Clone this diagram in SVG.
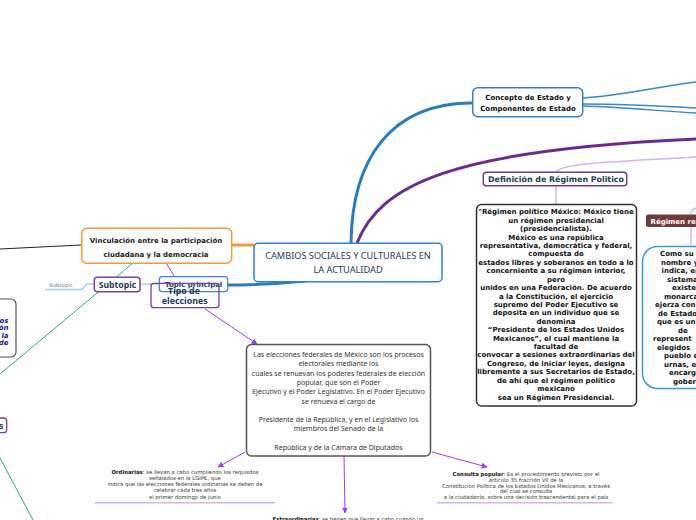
<svg xmlns="http://www.w3.org/2000/svg" width="696" height="520" viewBox="0 0 696 520">
<defs>
<marker id="arr" viewBox="0 0 10 10" refX="9" refY="5" markerUnits="userSpaceOnUse" markerWidth="6" markerHeight="6" orient="auto"><path d="M0,0 L10,5 L0,10 z" fill="#9b3cf0"/></marker>
</defs>
<style>
.bd{font-family:"DejaVu Sans",Verdana,sans-serif;font-weight:bold}
.ns{font-family:"Noto Sans","Open Sans",sans-serif}
.nb{font-family:"Noto Sans","Open Sans",sans-serif;font-weight:bold}
.dv{font-family:"DejaVu Sans",Verdana,sans-serif}
.c{text-anchor:middle}
.arrow{stroke:#9b3cf0;stroke-width:1;fill:none;marker-end:url(#arr)}
.lp{stroke:#d2b4ef;stroke-width:1.5;fill:none}
.lb{stroke:#a9cde6;stroke-width:1.5;fill:none}
.tb{stroke:#2b7bb9;stroke-width:3;fill:none}
</style>
<rect width="696" height="520" fill="#ffffff"/>

<g id="connectors" fill="none">
  <path class="tb" d="M351,243 C352,160 390,103 472,103"/>
  <path d="M357,243 C380,185 450,150 696,139" stroke="#6a2d8f" stroke-width="3"/>
  <path d="M254,245 L231,245" stroke="#f39a3b" stroke-width="3"/>
  <path class="tb" d="M227,285 C260,285 285,283 305,281"/>
  <path d="M81,245 L0,249" stroke="#222" stroke-width="1"/>
  <path d="M133,263 L0,374" stroke="#27b35f" stroke-width="1"/>
  <path d="M0,458 L33,520" stroke="#27b35f" stroke-width="1"/>
  <path d="M583,98 C620,96 650,88 696,82" stroke="#3b87c4" stroke-width="1.5"/>
  <path d="M583,104 C620,104 660,106 696,108" stroke="#3b87c4" stroke-width="1.5"/>
  <path d="M583,106 C620,107 660,111 696,113" stroke="#3b87c4" stroke-width="1.5"/>
  <path class="lp" d="M556,172 C560,164 600,162 696,157"/>
  <path class="lp" d="M556,186 L556,205"/>
  <path class="lp" d="M690,216 C690,212 693,209 696,208"/>
  <path class="lp" d="M691,227 L691,246"/>
  <path class="lb" d="M45,289.5 L81,289.5 C84,289.5 84,284 88,284 L94,284"/>
  <path class="lb" d="M140,284 L159,284"/>
  <path class="arrow" d="M166,263 L178,282"/>
  <path class="arrow" d="M205,309 L257,344"/>
  <path class="arrow" d="M245,452 L218,467"/>
  <path class="arrow" d="M432,452 L487,467"/>
  <path class="arrow" d="M344,456 L345,513"/>
  <path class="lp" d="M95,502.7 L275,502.7"/>
  <path class="lp" d="M437,502.7 L613,502.7"/>
</g>

<g id="central">
  <rect x="254" y="243.3" width="188" height="38.4" rx="4" fill="#fff" stroke="#3182c4" stroke-width="1.5"/>
  <text class="ns c" x="348" y="259" font-size="9.2" fill="#1e3a5f">CAMBIOS SOCIALES Y CULTURALES EN</text>
  <text class="ns c" x="348" y="272.5" font-size="9.2" fill="#1e3a5f">LA ACTUALIDAD</text>
</g>

<g id="vinculacion">
  <rect x="81.7" y="228.3" width="150" height="35" rx="5" fill="#fff" stroke="#f59a3c" stroke-width="1.5"/>
  <text class="bd c" x="156" y="243.3" font-size="7" fill="#222">Vinculación entre la participación</text>
  <text class="bd c" x="156" y="256.7" font-size="7" fill="#222">ciudadana y la democracia</text>
</g>

<g id="concepto">
  <rect x="472.7" y="87.7" width="110" height="29" rx="5" fill="#fff" stroke="#3182c4" stroke-width="1.5"/>
  <text class="bd c" x="528" y="100.2" font-size="7" fill="#111">Concepto de Estado y</text>
  <text class="bd c" x="528" y="110.8" font-size="7" fill="#111">Componentes de Estado</text>
</g>

<g id="definicion">
  <rect x="483.3" y="172.3" width="143.4" height="13.4" rx="3" fill="#fff" stroke="#6a3d8f" stroke-width="1.5"/>
  <text class="bd c" x="556" y="182.3" font-size="7.9" fill="#1d3c5a">Definición de Régimen Politico</text>
</g>

<g id="regimen-mexico">
  <rect x="476.5" y="204.5" width="160" height="201.5" rx="5" fill="#fff" stroke="#333" stroke-width="1.5"/>
  <g class="bd c" font-size="7" fill="#111">
    <text x="556" y="214.3">"Régimen político México: México tiene</text>
    <text x="556" y="222.7">un régimen presidencial</text>
    <text x="556" y="231.1">(presidencialista).</text>
    <text x="556" y="239.6">México es una república</text>
    <text x="556" y="248">representativa, democrática y federal,</text>
    <text x="556" y="256.4">compuesta de</text>
    <text x="556" y="264.8">estados libres y soberanos en todo a lo</text>
    <text x="556" y="273.2">concerniente a su régimen interior,</text>
    <text x="556" y="281.7">pero</text>
    <text x="556" y="290.1">unidos en una Federación. De acuerdo</text>
    <text x="556" y="298.5">a la Constitución, el ejercicio</text>
    <text x="556" y="306.9">supremo del Poder Ejecutivo se</text>
    <text x="556" y="315.3">deposita en un individuo que se</text>
    <text x="556" y="323.8">denomina</text>
    <text x="556" y="332.2">“Presidente de los Estados Unidos</text>
    <text x="556" y="340.6">Mexicanos”, el cual mantiene la</text>
    <text x="556" y="349">facultad de</text>
    <text x="556" y="357.4">convocar a sesiones extraordinarias del</text>
    <text x="556" y="365.9">Congreso, de iniciar leyes, designa</text>
    <text x="556" y="374.3">libremente a sus Secretarios de Estado,</text>
    <text x="556" y="382.7">de ahí que el régimen político</text>
    <text x="556" y="391.1">mexicano</text>
    <text x="556" y="399.6">sea un Régimen Presidencial.</text>
  </g>
</g>

<g id="regimen-rep">
  <rect x="646" y="214.5" width="60" height="12.5" rx="2" fill="#6e3b3b"/>
  <text class="bd" x="650.5" y="223.8" font-size="7" fill="#fff">Régimen rep</text>
</g>

<g id="regimen-rep-texto">
  <rect x="642.5" y="246.5" width="90" height="142" rx="15" fill="#fff" stroke="#3a9ad9" stroke-width="1.5"/>
  <g class="bd" font-size="7" fill="#111">
    <text x="660" y="256">Como su</text>
    <text x="661" y="264.5">nombre y</text>
    <text x="661.5" y="273">indica, en</text>
    <text x="667" y="281.5">sistema</text>
    <text x="672" y="290">existe</text>
    <text x="664" y="298.5">monarca</text>
    <text x="655" y="307">ejerza con</text>
    <text x="658" y="315.5">de Estado</text>
    <text x="657" y="324">que es un</text>
    <text x="678" y="332.5">de</text>
    <text x="653" y="341">represent</text>
    <text x="657" y="349.5">elegidos</text>
    <text x="664" y="358">pueblo e</text>
    <text x="664" y="366.5">urnas, el</text>
    <text x="669" y="375">encarga</text>
    <text x="673" y="383.5">gober</text>
  </g>
</g>

<g id="topic-principal">
  <rect x="159.3" y="276.7" width="68.4" height="15" rx="3" fill="#fff" stroke="#3a8ac6" stroke-width="1.2"/>
  <text class="bd c" x="193.7" y="287.3" font-size="7" fill="#1d3c5a">Topic principal</text>
</g>

<g id="tipo-elecciones">
  <rect x="151" y="283.3" width="68" height="24.4" rx="3" fill="none" stroke="#7b3fa6" stroke-width="1.3"/>
  <text class="nb c" x="184" y="294" font-size="8.8" fill="#1d3c5a">Tipo de</text>
  <text class="nb c" x="184.7" y="304" font-size="8.8" fill="#1d3c5a">elecciones</text>
</g>

<g id="subtopic">
  <rect x="94.3" y="277.3" width="45.7" height="14.4" rx="3" fill="#fff" stroke="#7b3fa6" stroke-width="1.5"/>
  <text class="nb c" x="117.5" y="287.7" font-size="8.7" fill="#1d3c5a">Subtopic</text>
</g>

<g id="subtopic-small">
  <text class="ns" x="49" y="287" font-size="5.8" fill="#6a8498">Subtopic</text>
</g>

<g id="left-box">
  <rect x="-10" y="299" width="26" height="58" rx="5" fill="#fff" stroke="#555" stroke-width="1.2"/>
  <g class="bd" font-size="7" fill="#1a1a8a" font-style="italic" text-anchor="end">
    <text x="8.5" y="322.5">os</text>
    <text x="8.5" y="330">ón</text>
    <text x="8.5" y="337.5">la</text>
    <text x="8.5" y="345">de</text>
  </g>
</g>

<g id="left-s">
  <rect x="-10" y="418" width="16.7" height="14.7" rx="3" fill="#fff" stroke="#7b3fa6" stroke-width="1.3"/>
  <text class="nb" x="-1" y="429" font-size="8.7" fill="#1d3c5a">s</text>
</g>

<g id="elecciones-federales">
  <rect x="246.5" y="344.5" width="184" height="111.5" rx="5" fill="#fff" stroke="#555" stroke-width="1.5"/>
  <g class="ns c" font-size="7" fill="#333">
    <text x="338.5" y="357">Las elecciones federales de México son los procesos</text>
    <text x="338.5" y="366.3">electorales mediante los</text>
    <text x="338.5" y="375.6">cuales se renuevan los poderes federales de elección</text>
    <text x="338.5" y="384.9">popular, que son el Poder</text>
    <text x="338.5" y="394.2">Ejecutivo y el Poder Legislativo. En el Poder Ejecutivo</text>
    <text x="338.5" y="403.5">se renueva el cargo de</text>
    <text x="338.5" y="422.1">Presidente de la República, y en el Legislativo los</text>
    <text x="338.5" y="431.4">miembros del Senado de la</text>
    <text x="338.5" y="450">República y de la Cámara de Diputados</text>
  </g>
</g>

<g id="ordinarias">
  <g class="dv c" font-size="5.3" fill="#333">
    <text x="185" y="473.5"><tspan font-weight="bold" fill="#111">Ordinarias</tspan>: se llevan a cabo cumpliendo los requisitos</text>
    <text x="185" y="479.8">señalados en la LGIPE, que</text>
    <text x="185" y="486.1">indica que las elecciones federales ordinarias se deben de</text>
    <text x="185" y="492.4">celebrar cada tres años</text>
    <text x="185" y="498.7">el primer domingo de junio</text>
  </g>
</g>

<g id="consulta">
  <g class="dv c" font-size="5.3" fill="#333">
    <text x="526" y="476.3"><tspan font-weight="bold" fill="#111">Consulta popular</tspan>: Es el procedimiento previsto por el</text>
    <text x="526" y="482">artículo 35 fracción VII de la</text>
    <text x="526" y="487.7">Constitución Política de los Estados Unidos Mexicanos, a través</text>
    <text x="526" y="492.8">del cual se consulta</text>
    <text x="526" y="498.6">a la ciudadanía, sobre una decisión trascendental para el país</text>
  </g>
</g>

<g id="extraordinarias">
  <text class="dv c" x="348" y="521" font-size="5.3" fill="#333"><tspan font-weight="bold" fill="#111">Extraordinarias</tspan>: se tienen que llevar a cabo cuando un</text>
</g>
</svg>
